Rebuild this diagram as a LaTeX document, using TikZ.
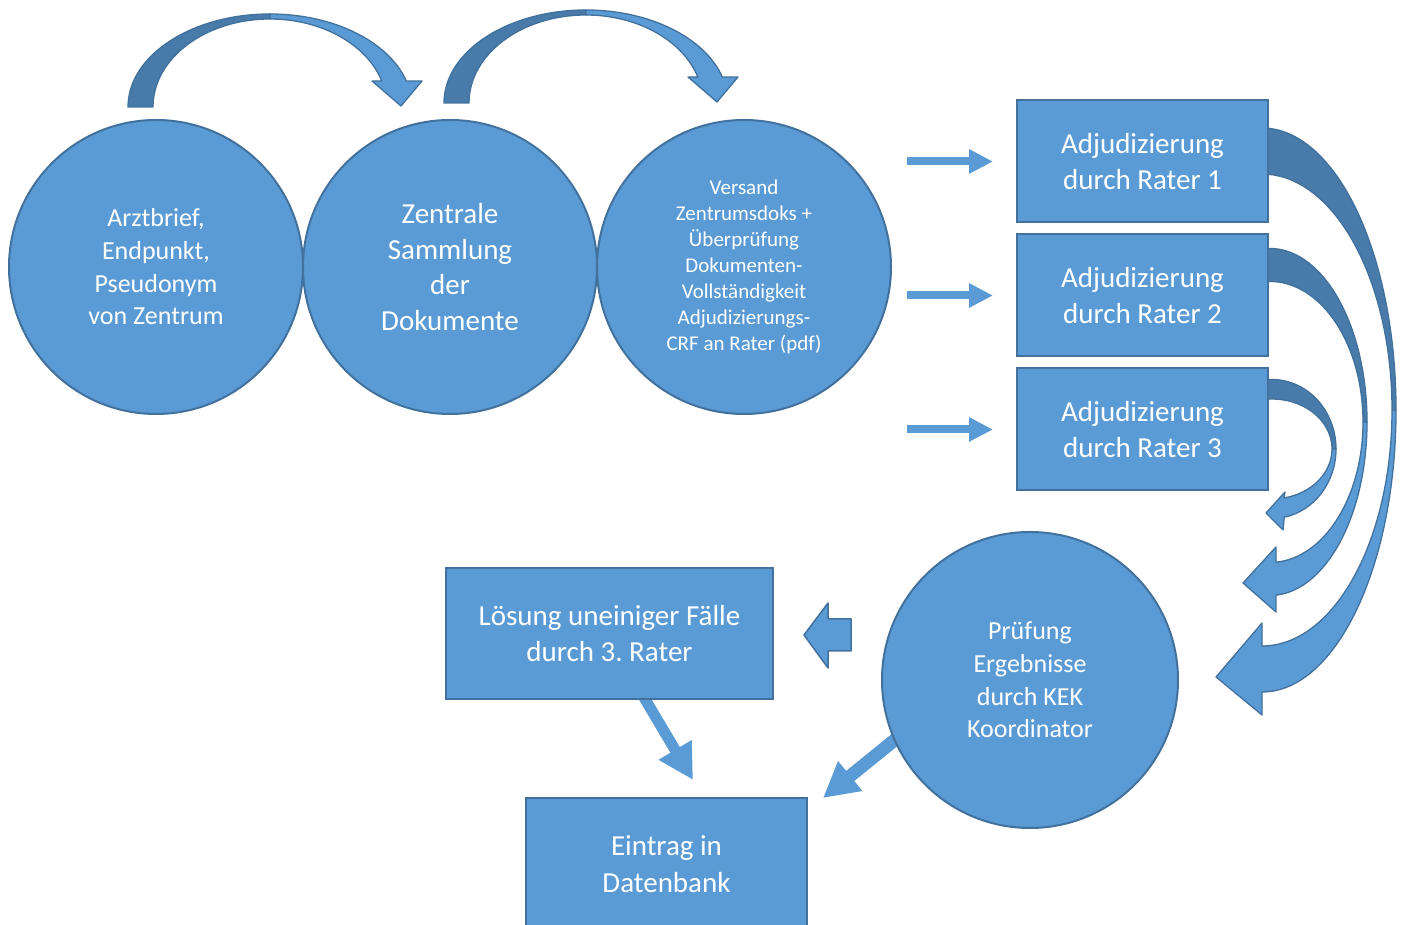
\documentclass[tikz,border=0pt]{standalone}
\usepackage{fontspec}
\setmainfont{Carlito}
\usetikzlibrary{arrows.meta,positioning,calc,backgrounds}
\definecolor{fillblue}{RGB}{91,155,213}
\definecolor{edgeblue}{RGB}{65,113,156}
\definecolor{banddark}{RGB}{72,122,170}
\frenchspacing

\begin{document}
\begin{tikzpicture}[
  x=1pt, y=1pt,
  every node/.append style={text=white},
  kreis/.style={circle, draw=edgeblue, line width=2pt, fill=fillblue, minimum size=294pt, inner sep=0pt, align=center},
  kasten/.style={rectangle, draw=edgeblue, line width=2pt, fill=fillblue, minimum width=251pt, minimum height=122pt, inner sep=0pt, align=center, font=\fontsize{29}{36.5}\selectfont},
  backband/.style={fill=banddark, draw=edgeblue, line width=1.3pt, line join=round},
  frontband/.style={fill=fillblue, draw=edgeblue, line width=1.3pt, line join=round},
  pfeil/.style={draw=fillblue, line width=8pt, -{Triangle[length=24pt,width=23pt]}, shorten >=23pt},
  schraeg/.style={draw=fillblue, shorten <=-6pt, -{Triangle[length=35pt,width=36pt]}}
]
\useasboundingbox (0,0) rectangle (1407,925);

% Circles, top row
\node[kreis, font=\fontsize{26}{32.7}\selectfont] (arzt) at (156,658) {Arztbrief,\\Endpunkt,\\Pseudonym\\von Zentrum};
\node[kreis, right=-2pt of arzt, font=\fontsize{29}{35.7}\selectfont] (samml) {Zentrale\\Sammlung\\der\\Dokumente};
\node[kreis, right=-2pt of samml, font=\fontsize{21}{26}\selectfont] (versand) {Versand\\Zentrumsdoks +\\Überprüfung\\Dokumenten-\\Vollständigkeit\\Adjudizierungs-\\CRF an Rater (pdf)};

% Rater boxes
\node[kasten] (r1) at (1142.5,763.5) {Adjudizierung\\durch Rater 1};
\node[kasten, below=10pt of r1] (r2) {Adjudizierung\\durch Rater 2};
\node[kasten, below=10pt of r2] (r3) {Adjudizierung\\durch Rater 3};

% Lower part
\node[kreis, minimum size=296pt, font=\fontsize{26}{32.7}\selectfont] (pk) at (1030,245) {Prüfung\\Ergebnisse\\durch KEK\\Koordinator};
\node[kasten, minimum width=327pt, minimum height=131pt] (lsg) at (609.5,291.5) {Lösung uneiniger Fälle\\durch 3. Rater};
\node[kasten, minimum width=281pt, minimum height=132pt] (db) at (666.5,61) {Eintrag in\\Datenbank};

% Free arrow ends
\coordinate (s1) at ([xshift=-109pt]r1.west);
\coordinate (s2) at ([xshift=-109pt]r2.west);
\coordinate (s3) at ([xshift=-109pt]r3.west);
\coordinate (t1) at (693,145);
\coordinate (t2) at (823,127);

\begin{scope}[on background layer]
% Curved arrows over the circles
\foreach \dx/\dy in {0/0,316/4}{
  \begin{scope}[shift={(\dx,\dy)}]
    \filldraw[backband] (128,818) arc[start angle=180,end angle=90,x radius=142,y radius=93]
      -- (270,906) arc[start angle=90,end angle=180,x radius=117,y radius=88] -- cycle;
    \filldraw[frontband] (270,911) arc[start angle=90,end angle=16.2,x radius=142,y radius=93]
      -- (422,844) -- (401,819) -- (372,844) -- (381.8,844)
      arc[start angle=17.2,end angle=90,x radius=117,y radius=88] -- cycle;
  \end{scope}
}

% Curved arrows from the raters
\filldraw[backband] (1262,515) ++(100:134 and 282) arc[start angle=100,end angle=0,x radius=134,y radius=282]
  -- (1392,515) arc[start angle=0,end angle=100,x radius=130,y radius=236] -- cycle;
\filldraw[frontband] (1396,515) arc[start angle=0,end angle=-90,x radius=134,y radius=282]
  -- (1262,210) -- (1216,248) -- (1262,302) -- (1262,279)
  arc[start angle=-90,end angle=0,x radius=130,y radius=236] -- cycle;

\filldraw[backband] (1270,503) ++(100:97 and 173.5) arc[start angle=100,end angle=0,x radius=97,y radius=173.5]
  -- (1363,503) arc[start angle=0,end angle=100,x radius=93,y radius=140.5] -- cycle;
\filldraw[frontband] (1367,503) arc[start angle=0,end angle=-86.5,x radius=97,y radius=173.5]
  -- (1276,313) -- (1243,342) -- (1276,378) -- ($(1270,503)+(-86.3:93 and 140.5)$)
  arc[start angle=-86.3,end angle=0,x radius=93,y radius=140.5] -- cycle;

\filldraw[backband] (1272,476) ++(100:64 and 69.5) arc[start angle=100,end angle=0,x radius=64,y radius=69.5]
  -- (1332,476) arc[start angle=0,end angle=100,x radius=60,y radius=50] -- cycle;
\filldraw[frontband] (1336,476) arc[start angle=0,end angle=-79,x radius=64,y radius=69.5]
  -- (1283,395) -- (1266,412) -- (1285,433) -- ($(1272,476)+(-78.5:60 and 50)$)
  arc[start angle=-78.5,end angle=0,x radius=60,y radius=50] -- cycle;

% Straight arrows
\draw[pfeil] (s1) -- (r1);
\draw[pfeil] (s2) -- (r2);
\draw[pfeil] (s3) -- (r3);
\draw[schraeg, line width=11pt] ([xshift=36pt]lsg.south) -- (t1);
\draw[schraeg, line width=13pt] (pk.204) -- (t2);
\end{scope}

% Block arrow back to the third rater
\filldraw[frontband, line width=1.5pt] (851,306) -- (828,306) -- (828,322) -- (804,290)
  -- (828,257) -- (828,274) -- (851,274) -- cycle;

\end{tikzpicture}
\end{document}
